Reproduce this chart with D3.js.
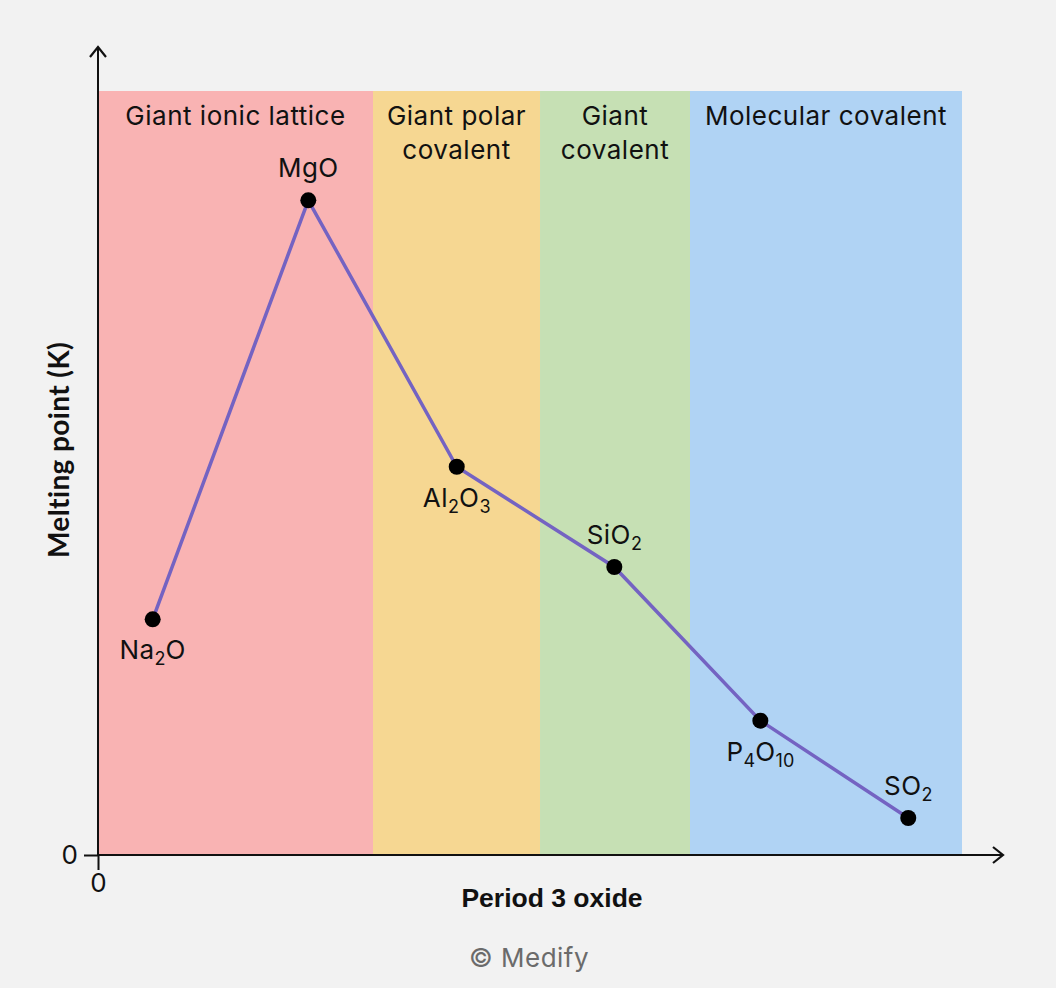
<!DOCTYPE html>
<html>
<head>
<meta charset="utf-8">
<script src="https://cdn.jsdelivr.net/npm/d3@7/dist/d3.min.js"></script>
<style>
  html, body { margin: 0; padding: 0; background: #f2f2f2; }
  svg { display: block; }
</style>
</head>
<body>
<svg id="chart" width="1056" height="988"></svg>
<script>
// ---- data ----
const oxides = [
  { parts: [["Na", 0], ["2", 1], ["O", 0]] },
  { parts: [["MgO", 0]] },
  { parts: [["Al", 0], ["2", 1], ["O", 0], ["3", 1]] },
  { parts: [["SiO", 0], ["2", 1]] },
  { parts: [["P", 0], ["4", 1], ["O", 0], ["10", 1]] },
  { parts: [["SO", 0], ["2", 1]] }
];
const oxideNames = ["Na2O", "MgO", "Al2O3", "SiO2", "P4O10", "SO2"];
const xPositions = [6.33, 24.34, 41.52, 59.76, 76.66, 93.78];       // position along x (arbitrary units)
const meltingValues = [30.85, 85.69, 50.82, 37.70, 17.58, 4.84];   // relative melting point
const labelAbove = [false, true, false, true, false, true];

const bandNames = [["Giant ionic lattice"], ["Giant polar", "covalent"], ["Giant", "covalent"], ["Molecular covalent"]];
const bandEdges = [0, 31.83, 51.16, 68.52, 100];
const bandColors = ["#f9b3b3", "#f6d792", "#c6e0b4", "#b0d3f4"];

const xTicks = [0];
const yTicks = [0];

// ---- layout ----
const svg = d3.select("#chart");
const W = 1056, H = 988;
svg.append("rect").attr("width", W).attr("height", H).attr("fill", "#f2f2f2");

const x = d3.scaleLinear().domain([0, 100]).range([98, 962]);
const y = d3.scaleLinear().domain([0, 100]).range([855, 91]);

const font = "Inter, 'Liberation Sans', Arial, sans-serif";
const fs = 26;
const ls = 0.5;

// bands
const bands = bandNames.map((n, i) => ({ name: n, x0: bandEdges[i], x1: bandEdges[i + 1], color: bandColors[i] }));
svg.append("g").selectAll("rect").data(bands).join("rect")
  .attr("x", d => x(d.x0))
  .attr("y", y(100))
  .attr("width", d => x(d.x1) - x(d.x0))
  .attr("height", y(0) - y(100))
  .attr("fill", d => d.color);

const bandText = svg.append("g").selectAll("text").data(bands).join("text")
  .attr("x", d => (x(d.x0) + x(d.x1)) / 2)
  .attr("y", y(100) + 34)
  .attr("text-anchor", "middle")
  .attr("font-family", font)
  .attr("font-size", fs)
  .attr("letter-spacing", ls)
  .attr("fill", "#111");
bandText.each(function (d) {
  const t = d3.select(this);
  d.name.forEach((line, i) => {
    t.append("tspan").attr("x", (x(d.x0) + x(d.x1)) / 2).attr("dy", i === 0 ? 0 : 34).text(line);
  });
});

// axes via d3 axis
const yAxis = d3.axisLeft(y).tickValues(yTicks).tickSize(14).tickPadding(6).tickFormat(d3.format("d"));
const gy = svg.append("g").attr("transform", `translate(${x(0)},0)`).call(yAxis);
gy.select(".domain").remove();
gy.selectAll(".tick line").attr("stroke", "#111").attr("stroke-width", 2);
gy.selectAll(".tick text").attr("font-family", font).attr("font-size", fs).attr("fill", "#111");

const xAxis = d3.axisBottom(x).tickValues(xTicks).tickSize(15).tickPadding(4).tickFormat(d3.format("d"));
const gx = svg.append("g").attr("transform", `translate(0,${y(0)})`).call(xAxis);
gx.select(".domain").remove();
gx.selectAll(".tick line").attr("stroke", "#111").attr("stroke-width", 2);
gx.selectAll(".tick text").attr("font-family", font).attr("font-size", fs).attr("fill", "#111");

// axis lines with open arrows
const defs = svg.append("defs");
defs.append("marker").attr("id", "arrow").attr("viewBox", "0 0 20 20")
  .attr("refX", 14).attr("refY", 10).attr("markerWidth", 20).attr("markerHeight", 20)
  .attr("markerUnits", "userSpaceOnUse").attr("orient", "auto")
  .append("path").attr("d", "M4,2 L14,10 L4,18").attr("fill", "none").attr("stroke", "#111").attr("stroke-width", 2.2);

svg.append("line").attr("x1", x(0)).attr("y1", y(0)).attr("x2", 1003).attr("y2", y(0))
  .attr("stroke", "#111").attr("stroke-width", 2).attr("marker-end", "url(#arrow)");
svg.append("line").attr("x1", x(0)).attr("y1", y(0)).attr("x2", x(0)).attr("y2", 47)
  .attr("stroke", "#111").attr("stroke-width", 2).attr("marker-end", "url(#arrow)");

// data
const data = oxideNames.map((n, i) => ({ name: n, parts: oxides[i].parts, xv: xPositions[i], v: meltingValues[i], above: labelAbove[i] }));

svg.append("path").datum(data)
  .attr("d", d3.line().x(d => x(d.xv)).y(d => y(d.v)))
  .attr("fill", "none").attr("stroke", "#7463c2").attr("stroke-width", 3.5);

svg.append("g").selectAll("circle").data(data).join("circle")
  .attr("cx", d => x(d.xv)).attr("cy", d => y(d.v)).attr("r", 8).attr("fill", "#000");

const labels = svg.append("g").selectAll("text").data(data).join("text")
  .attr("x", d => x(d.xv))
  .attr("y", d => y(d.v) + (d.above ? -23 : 40))
  .attr("text-anchor", "middle")
  .attr("font-family", font)
  .attr("font-size", fs)
  .attr("letter-spacing", ls)
  .attr("fill", "#111");
labels.each(function (d) {
  const t = d3.select(this);
  let prevSub = 0;
  d.parts.forEach(([s, sub]) => {
    const ts = t.append("tspan").text(s);
    const dy = (sub ? 6 : 0) - prevSub;
    if (dy !== 0) ts.attr("dy", dy);
    if (sub) ts.attr("font-size", 18).attr("letter-spacing", 0);
    prevSub = sub ? 6 : 0;
  });
});

// axis titles
svg.append("text")
  .attr("transform", `translate(69,${(y(0) + y(100)) / 2 - 23}) rotate(-90)`)
  .attr("text-anchor", "middle")
  .attr("font-family", "Lato, 'Open Sans', sans-serif")
  .attr("font-weight", "bold")
  .attr("font-size", 28)
  .attr("letter-spacing", 0.4)
  .attr("fill", "#111")
  .text("Melting point (K)");

svg.append("text")
  .attr("x", 552).attr("y", 907)
  .attr("text-anchor", "middle")
  .attr("font-family", "'Liberation Sans', Arial, sans-serif")
  .attr("font-weight", "bold")
  .attr("font-size", 26.5)
  .attr("fill", "#111")
  .text("Period 3 oxide");

svg.append("text")
  .attr("x", 529).attr("y", 967)
  .attr("text-anchor", "middle")
  .attr("font-family", font)
  .attr("font-size", fs)
  .attr("letter-spacing", ls)
  .attr("fill", "#6b6b6b")
  .text("© Medify");
</script>
</body>
</html>
